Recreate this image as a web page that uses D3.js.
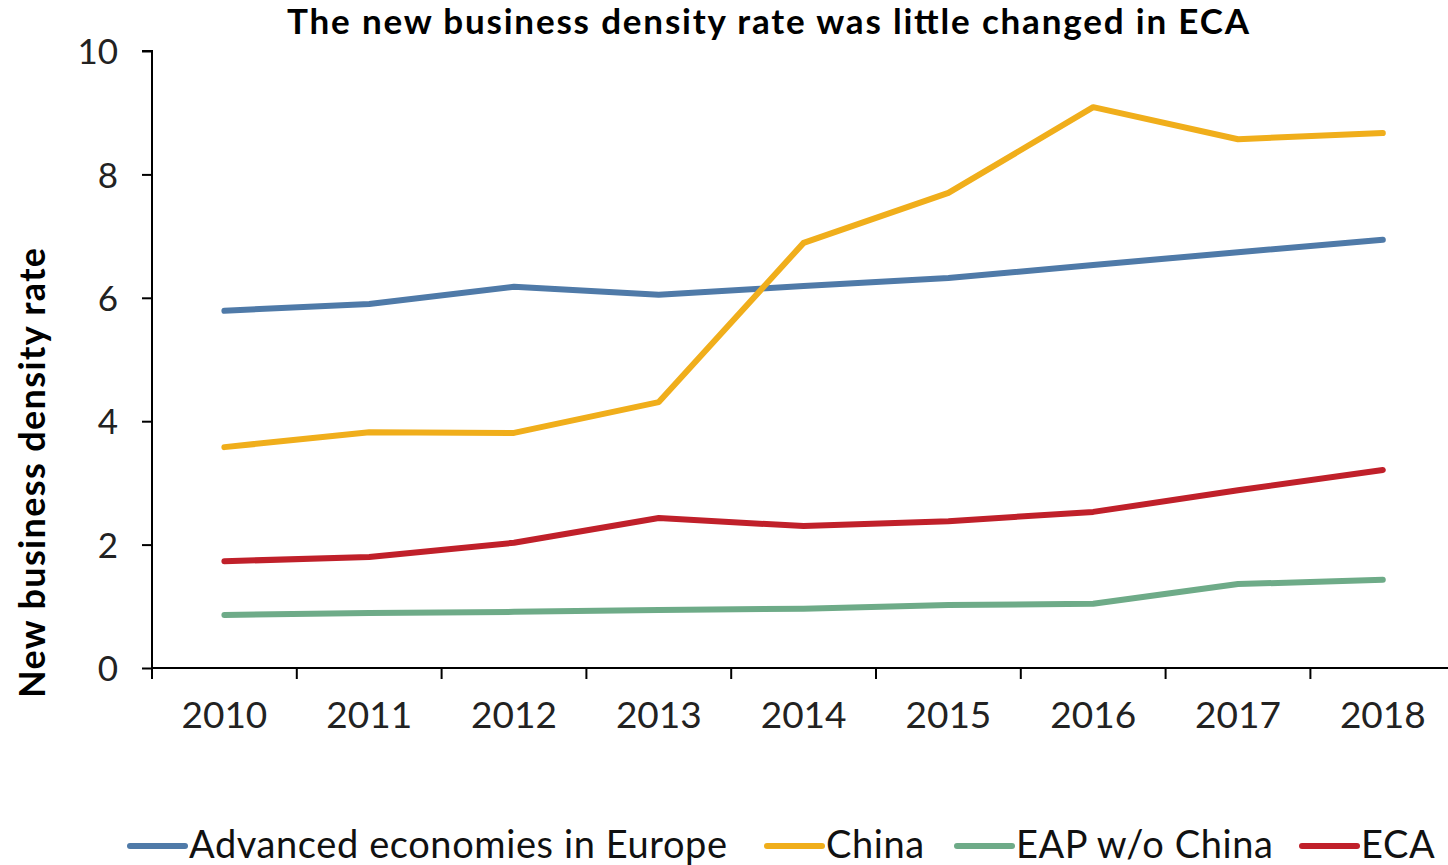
<!DOCTYPE html>
<html>
<head>
<meta charset="utf-8">
<script src="https://cdn.jsdelivr.net/npm/d3@7"></script>
<style>
  html, body { margin: 0; padding: 0; background: #fff; }
  svg { display: block; font-family: Lato, "Open Sans", sans-serif; }
</style>
</head>
<body>
<svg id="chart" width="1448" height="865"></svg>
<script>
// Years on the horizontal axis
const years = ["2010", "2011", "2012", "2013", "2014", "2015", "2016", "2017", "2018"];

// New business density rate by region
const advancedEurope = [5.79, 5.90, 6.18, 6.05, 6.19, 6.32, 6.53, 6.74, 6.94];
const china          = [3.58, 3.82, 3.81, 4.31, 6.89, 7.70, 9.09, 8.57, 8.67];
const eapNoChina     = [0.86, 0.89, 0.91, 0.94, 0.96, 1.02, 1.04, 1.36, 1.43];
const eca            = [1.73, 1.80, 2.03, 2.43, 2.30, 2.38, 2.53, 2.88, 3.21];

const seriesNames = ["Advanced economies in Europe", "China", "EAP w/o China", "ECA"];
const seriesColors = ["#4f7aa8", "#f0ae1b", "#6eab88", "#c0202a"];
const yTicks = [0, 2, 4, 6, 8, 10];

const series = [advancedEurope, china, eapNoChina, eca].map((values, i) => ({
  name: seriesNames[i], color: seriesColors[i], values
}));

const svg = d3.select("#chart");
const plotLeft = 152, plotBottom = 668, plotTop = 51;
const step = 144.8;

const x = d3.scaleBand().domain(years).range([plotLeft, plotLeft + step * years.length]).padding(0);
const y = d3.scaleLinear().domain([0, 10]).range([plotBottom, plotTop]);

// Title
svg.append("text")
  .attr("x", 768).attr("y", 34)
  .attr("text-anchor", "middle")
  .attr("font-size", 35).attr("font-weight", 700)
  .attr("fill", "#000")
  .attr("textLength", 962).attr("lengthAdjust", "spacing")
  .text("The new business density rate was little changed in ECA");

// Y axis
const yAxis = svg.append("g")
  .attr("transform", `translate(${plotLeft},0)`)
  .call(d3.axisLeft(y).tickValues(yTicks).tickSize(10).tickPadding(24).tickFormat(d3.format("d")));
yAxis.select(".domain").attr("stroke", "#000").attr("stroke-width", 2).attr("d", `M-10,${y(10)}H0V${y(0)}`);
yAxis.selectAll(".tick line").attr("stroke", "#000").attr("stroke-width", 2);
yAxis.selectAll(".tick text").attr("font-size", 35).attr("fill", "#222").attr("font-family", "Lato, sans-serif").attr("dy", "0.36em");

// Y axis title
svg.append("text")
  .attr("transform", `translate(45,473) rotate(-90)`)
  .attr("text-anchor", "middle")
  .attr("font-size", 36).attr("font-weight", 700)
  .attr("fill", "#000")
  .attr("textLength", 450).attr("lengthAdjust", "spacing")
  .text("New business density rate");

// X axis: line, boundary ticks, centred labels
const xAxis = svg.append("g").attr("transform", `translate(0,${plotBottom})`);
xAxis.append("line")
  .attr("x1", plotLeft).attr("x2", 1448).attr("y1", 0).attr("y2", 0)
  .attr("stroke", "#000").attr("stroke-width", 2);
xAxis.selectAll(".bound")
  .data(years)
  .join("line")
  .attr("class", "bound")
  .attr("x1", d => x(d)).attr("x2", d => x(d))
  .attr("y1", 0).attr("y2", 11)
  .attr("stroke", "#000").attr("stroke-width", 2);
xAxis.selectAll(".lbl")
  .data(years)
  .join("text")
  .attr("class", "lbl")
  .attr("x", d => x(d) + x.bandwidth() / 2)
  .attr("y", 60)
  .attr("text-anchor", "middle")
  .attr("font-size", 37).attr("fill", "#222")
  .text(d => d);

// Series lines
const line = d3.line()
  .x((d, i) => x(years[i]) + x.bandwidth() / 2)
  .y(d => y(d));

svg.append("g").selectAll("path")
  .data(series)
  .join("path")
  .attr("d", s => line(s.values))
  .attr("fill", "none")
  .attr("stroke", s => s.color)
  .attr("stroke-width", 6)
  .attr("stroke-linejoin", "round")
  .attr("stroke-linecap", "round");

// Legend
const legendX = [130, 767, 957, 1302];
const legend = svg.append("g").selectAll("g")
  .data(series)
  .join("g")
  .attr("transform", (s, i) => `translate(${legendX[i]},846)`);
legend.append("line")
  .attr("x1", 0).attr("x2", 55).attr("y1", 0).attr("y2", 0)
  .attr("stroke", s => s.color).attr("stroke-width", 6).attr("stroke-linecap", "round");
legend.append("text")
  .attr("x", 59).attr("y", 12)
  .attr("font-size", 38).attr("fill", "#111")
  .attr("letter-spacing", 0.6)
  .text(s => s.name);
</script>
</body>
</html>
